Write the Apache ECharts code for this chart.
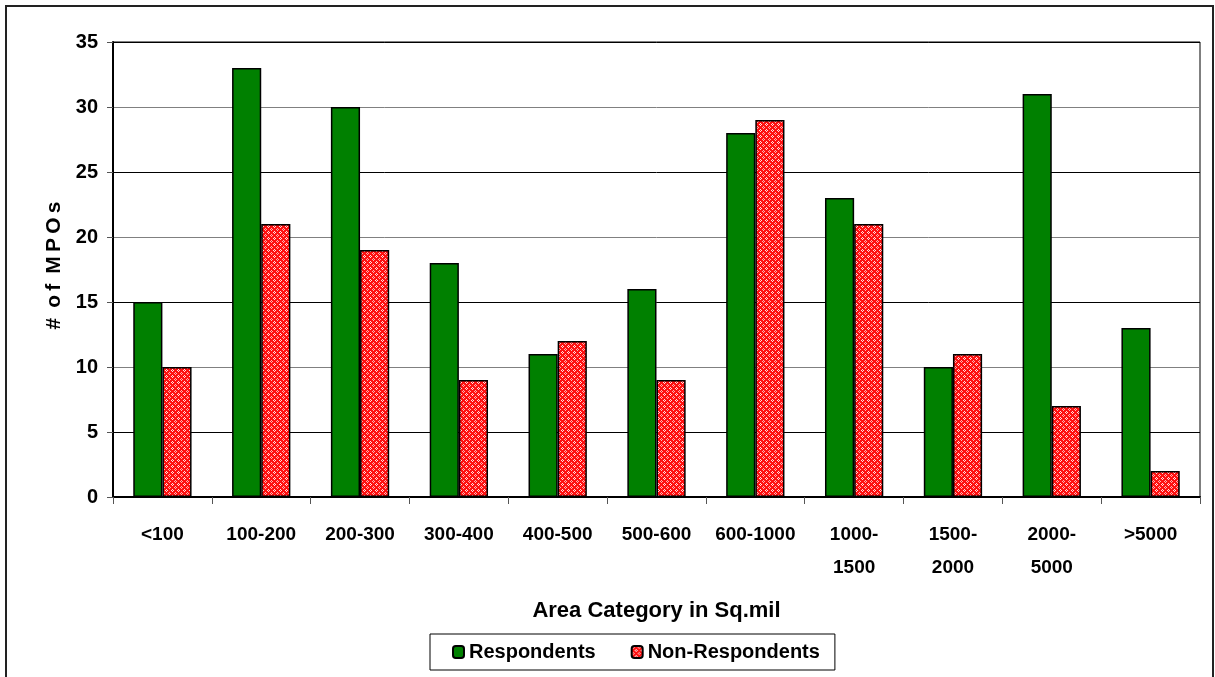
<!DOCTYPE html>
<html>
<head>
<meta charset="utf-8">
<script src="https://cdn.jsdelivr.net/npm/echarts@6/dist/echarts.min.js"></script>
<style>
html,body{margin:0;padding:0;background:#fff;}
#chart{width:1215px;height:677px;}
</style>
</head>
<body>
<div id="chart"></div>
<script>
const categories = ['<100','100-200','200-300','300-400','400-500','500-600','600-1000','1000-\n1500','1500-\n2000','2000-\n5000','>5000'];
const respondents = [15,33,30,18,11,16,28,23,10,31,13];
const nonRespondents = [10,21,19,9,12,9,29,21,11,7,2];
const yTicks = [0,5,10,15,20,25,30,35];

function makePattern(){
  const c = document.createElement('canvas');
  c.width = 6; c.height = 6;
  const g = c.getContext('2d');
  g.fillStyle = '#ff1010';
  g.fillRect(0,0,6,6);
  g.fillStyle = '#ffb0b0';
  g.fillRect(1,0,1,1); g.fillRect(0,1,1,1); g.fillRect(2,1,1,1); g.fillRect(1,2,1,1);
  g.fillStyle = '#ffe0e0';
  g.fillRect(4,3,1,1); g.fillRect(3,4,1,1); g.fillRect(5,4,1,1); g.fillRect(4,5,1,1);
  return c;
}
const pattern = {image: makePattern(), repeat: 'repeat'};

const chart = echarts.init(document.getElementById('chart'));
const font = 'Liberation Sans, Arial, sans-serif';
const yName = '#\u2009 o\u2009f\u2009 M\u2009P\u2009O\u2009s';
chart.setOption({
  animation: false,
  backgroundColor: '#fff',
  textStyle: {fontFamily: font},
  graphic: [{
    type: 'rect', shape: {x: 6, y: 6, width: 1207, height: 680},
    style: {fill: 'none', stroke: '#222', lineWidth: 2}, silent: true
  }],
  grid: {left: 113, right: 15, top: 42, bottom: 180, show: true, borderColor: '#000', borderWidth: 1},
  legend: {
    data: ['Respondents','Non-Respondents'],
    left: 430, top: 634,
    padding: [8, 15, 8, 22],
    itemGap: 35,
    itemWidth: 11, itemHeight: 12,
    borderColor: '#000', borderWidth: 1,
    textStyle: {fontFamily: font, fontWeight: 'bold', fontSize: 20, color: '#000'}
  },
  xAxis: {
    type: 'category',
    data: categories,
    name: 'Area Category in Sq.mil',
    nameLocation: 'middle',
    nameGap: 103,
    nameTextStyle: {fontFamily: font, fontWeight: 'bold', fontSize: 22, color: '#000'},
    axisLine: {lineStyle: {color: '#000', width: 2}},
    axisTick: {show: true, length: 7, lineStyle: {color: '#555'}},
    axisLabel: {interval: 0, margin: 21, fontFamily: font, fontWeight: 'bold', fontSize: 19, color: '#000', lineHeight: 33, verticalAlign: 'top'}
  },
  yAxis: {
    type: 'value',
    min: 0, max: 35, interval: 5,
    name: yName,
    nameLocation: 'middle',
    nameGap: 48,
    nameRotate: 90,
    nameTextStyle: {fontFamily: font, fontWeight: 'bold', fontSize: 21, color: '#000', padding: [0, 0, 0, 8]},
    axisLine: {show: true, lineStyle: {color: '#000', width: 2}},
    axisTick: {show: true, length: 6, lineStyle: {color: '#555'}},
    axisLabel: {margin: 15, fontFamily: font, fontWeight: 'bold', fontSize: 20, color: '#000',
      formatter: v => yTicks.includes(v) ? String(v) : ''},
    splitLine: {show: true, lineStyle: {color: ['#808080','#000'], width: 1}}
  },
  series: [
    {
      name: 'Respondents', type: 'bar', data: respondents,
      barWidth: '29.5%', barGap: '0%',
      itemStyle: {color: '#008000', borderColor: '#000', borderWidth: 1.5}
    },
    {
      name: 'Non-Respondents', type: 'bar', data: nonRespondents,
      barWidth: '29.5%',
      itemStyle: {color: pattern, borderColor: '#000', borderWidth: 1.5}
    }
  ]
});
</script>
</body>
</html>
